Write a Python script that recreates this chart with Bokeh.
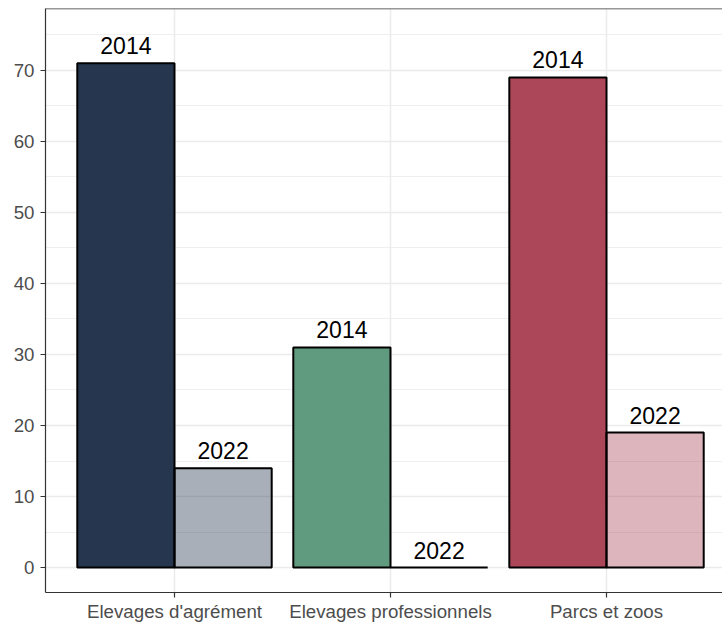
from bokeh.plotting import figure
from bokeh.models import ColumnDataSource, FixedTicker, Span
from bokeh.core.properties import value
from bokeh.embed import file_html
from bokeh.resources import INLINE

categories = ["Elevages d'agrément", "Elevages professionnels", "Parcs et zoos"]
years = ["2014", "2022"]
values_2014 = [71, 31, 69]
values_2022 = [14, 0, 19]
colors = ["#26364F", "#619B7F", "#AB4759"]
y_ticks = [0, 10, 20, 30, 40, 50, 60, 70]

FONT = "Liberation Sans"
cat_pos = [1, 2, 3]
half = 0.225
y_start, y_end = -3.51, 78.71

src14 = ColumnDataSource(dict(x=[c - half for c in cat_pos], top=values_2014, color=colors,
                              label=[years[0]] * 3))
src22 = ColumnDataSource(dict(x=[c + half for c in cat_pos], top=values_2022, color=colors,
                              label=[years[1]] * 3))

p = figure(width=722, height=624, output_backend="svg", toolbar_location=None,
           x_range=(0.4028, 3.537), y_range=(y_start, y_end),
           min_border_left=45, min_border_right=0, min_border_top=8, min_border_bottom=28)
p.background_fill_color = "white"
p.outline_line_color = None

p.vbar(x="x", top="top", bottom=0, width=0.45, source=src14, fill_color="color",
       line_color="black", line_width=2)
p.vbar(x="x", top="top", bottom=0, width=0.45, source=src22, fill_color="color",
       fill_alpha=0.4, line_color="black", line_width=2)

for s in (src14, src22):
    p.text(x="x", y="top", text="label", source=s, text_align="center",
           text_baseline="bottom", y_offset=-9, text_font=value(FONT),
           text_font_size="23px", text_color="black")

p.add_layout(Span(location=y_end, dimension="width", line_color="#333333", line_width=1.5))

p.xaxis.ticker = FixedTicker(ticks=cat_pos)
p.xaxis.major_label_overrides = {c: n for c, n in zip(cat_pos, categories)}
p.yaxis.ticker = FixedTicker(ticks=y_ticks, minor_ticks=[t + 5 for t in y_ticks])

for ax in (p.xaxis, p.yaxis):
    ax.axis_line_color = "#333333"
    ax.axis_line_width = 1.2
    ax.major_tick_line_color = "#333333"
    ax.major_tick_line_width = 1.2
    ax.major_tick_out = 5
    ax.major_tick_in = 0
    ax.minor_tick_line_color = None
    ax.major_label_text_font = FONT
    ax.major_label_text_font_size = "18.7px"
    ax.major_label_text_color = "#4D4D4D"
p.xaxis.major_label_standoff = 3
p.yaxis.major_label_standoff = 6

p.xgrid.grid_line_color = "#EBEBEB"
p.xgrid.grid_line_width = 1.5
p.ygrid.grid_line_color = "#EBEBEB"
p.ygrid.grid_line_width = 1.5
p.ygrid.minor_grid_line_color = "#EBEBEB"
p.ygrid.minor_grid_line_width = 0.8

open("out.html", "w").write(file_html(p, INLINE))
